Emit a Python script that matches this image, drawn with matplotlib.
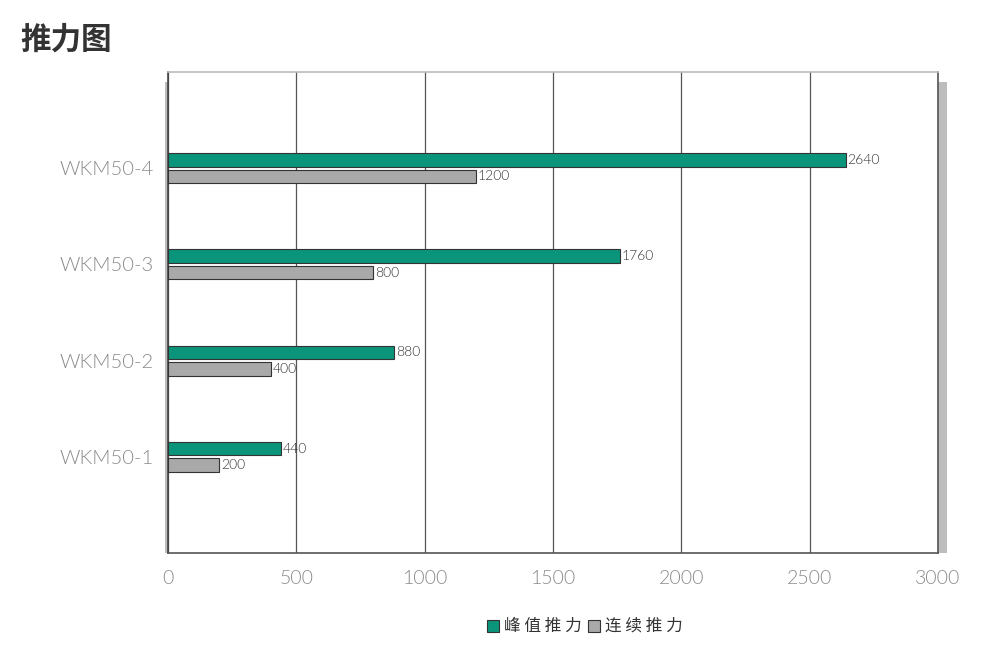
import matplotlib
matplotlib.use("Agg")
import matplotlib.pyplot as plt
from matplotlib.patches import Rectangle
import numpy as np

plt.rcParams['font.family'] = ['Noto Sans CJK SC', 'DejaVu Sans']

categories = ["WKM50-1", "WKM50-2", "WKM50-3", "WKM50-4"]
peak = [440, 880, 1760, 2640]
cont = [200, 400, 800, 1200]
series_names = ["峰 值 推 力", "连 续 推 力"]
xticks = [0, 500, 1000, 1500, 2000, 2500, 3000]

green = "#0a957a"
grey = "#a9a9a9"
edge = "#333333"
label_font = ["Lato", "DejaVu Sans"]
thin = 300

fig = plt.figure(figsize=(9.93, 6.45), dpi=100)
W, H = 993, 645
left, right, top, bottom = 168, 938, 72, 553
ax = fig.add_axes([left / W, 1 - bottom / H, (right - left) / W, (bottom - top) / H])

# drop shadow behind the plot box
shadow = Rectangle(((left - 3) / W, 1 - bottom / H), (right - left + 12) / W,
                   (bottom - top - 10) / H, transform=fig.transFigure,
                   facecolor="#bdbdbd", edgecolor="none", zorder=0)
fig.patches.append(shadow)
ax.set_zorder(1)

y = np.arange(len(categories))
h = 0.14
ax.barh(y + 0.085, peak, height=h, color=green, edgecolor=edge, linewidth=0.8, zorder=3)
ax.barh(y - 0.085, cont, height=h, color=grey, edgecolor=edge, linewidth=0.8, zorder=3)

for yi, v in zip(y, peak):
    ax.text(v + 7, yi + 0.085, str(v), va="center", ha="left", fontsize=10,
            color="#333333", family=label_font, fontweight=thin, zorder=4)
for yi, v in zip(y, cont):
    ax.text(v + 7, yi - 0.085, str(v), va="center", ha="left", fontsize=10,
            color="#333333", family=label_font, fontweight=thin, zorder=4)

ax.set_xlim(0, 3000)
ax.set_ylim(-1, 4)
ax.set_xticks(xticks)
ax.set_xticklabels([str(t) for t in xticks], fontsize=14, color="#8a8a8a",
                   family=label_font, fontweight=thin)
ax.set_yticks(y)
ax.set_yticklabels(categories, fontsize=14.5, color="#8a8a8a",
                   family=label_font, fontweight=thin)
ax.tick_params(length=0, pad=12)
ax.tick_params(axis="y", pad=10)
ax.grid(axis="x", color="#555555", linewidth=0.9, zorder=1)
ax.set_axisbelow(True)
ax.set_facecolor("white")

ax.spines["top"].set_color("#bbbbbb")
ax.spines["right"].set_color("#555555")
ax.spines["left"].set_color("#444444")
ax.spines["bottom"].set_color("#555555")
for s in ax.spines.values():
    s.set_linewidth(1.2)

fig.text(20 / W, 1 - 40 / H, "推力图", fontsize=22, fontweight="bold",
         color="#333333", va="center", ha="left")

# legend
ly = 1 - 626 / H
for x0, c, name in [(487, green, series_names[0]), (588, grey, series_names[1])]:
    fig.patches.append(Rectangle((x0 / W, ly - 6 / H), 12 / W, 12 / H,
                                 transform=fig.transFigure, facecolor=c,
                                 edgecolor=edge, linewidth=0.8))
    fig.text((x0 + 17) / W, ly, name, fontsize=12, color="#333333", va="center", ha="left")

fig.savefig("out.png", dpi=100)
